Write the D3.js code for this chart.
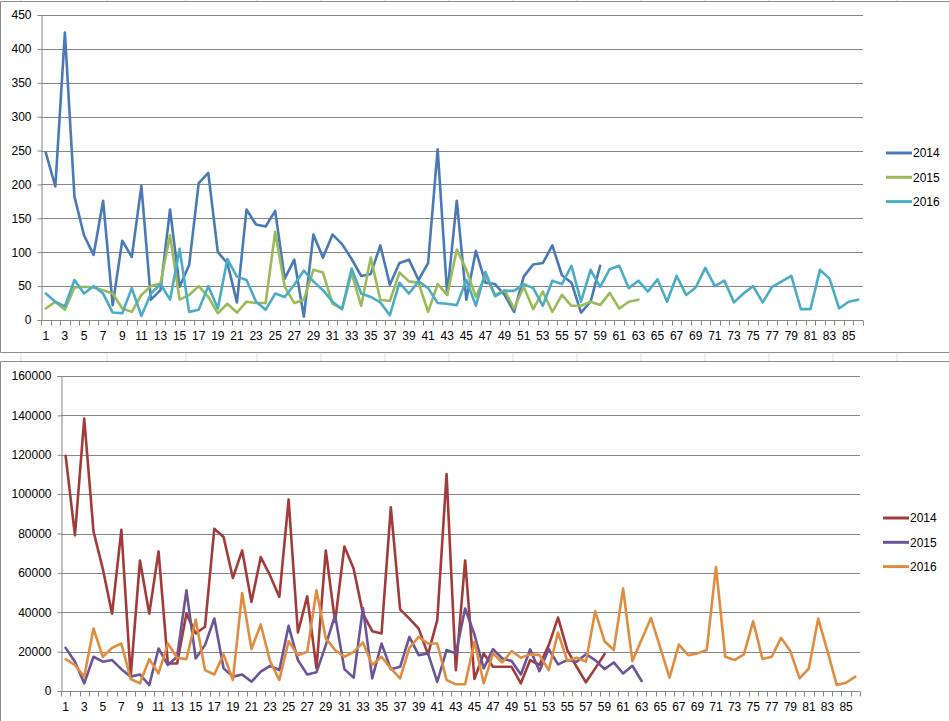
<!DOCTYPE html>
<html lang="en">
<head>
<meta charset="UTF-8">
<title>Weekly counts 2014-2016</title>
<script src="https://d3js.org/d3.v7.min.js"></script>
<style>
  body { margin: 0; background: #fff; }
  svg { display: block; font-family: "Liberation Sans", Arial, sans-serif; }
  .tick-label { font-size: 12px; fill: #000; }
</style>
</head>
<body>
<svg id="chart" width="949" height="721"></svg>
<script>
// categories 1..86 (week numbers)
const weeks = d3.range(1, 87);
const years = ["2014", "2015", "2016"];

// top chart values
const top2014 = [247,197,424,182,125,96,176,22,117,93,198,30,44,163,49,81,202,217,100,84,
  26,163,141,138,161,61,89,5,126,92,126,112,90,65,68,110,52,84,89,59,
  84,252,37,176,30,102,55,53,37,12,64,82,84,110,66,55,11,27,80];
const top2015 = [17,27,15,48,49,48,44,39,17,12,37,50,54,125,30,37,50,34,10,24,
  11,27,25,25,130,49,25,30,74,70,24,17,69,21,92,30,28,70,57,55,
  12,53,37,104,74,34,66,37,44,17,49,16,42,12,37,21,21,27,22,40,
  17,27,30];
const top2016 = [39,27,20,59,39,50,39,11,10,47,6,39,53,30,105,12,15,50,17,90,
  64,59,27,15,39,34,52,73,57,44,27,16,76,39,34,26,7,55,39,57,
  47,25,24,22,59,21,71,35,43,43,53,47,21,58,53,80,27,74,49,75,
  80,47,58,42,60,27,65,37,48,77,50,58,26,39,50,26,49,57,65,16,
  16,74,61,17,27,30];

// bottom chart values
const bot2014 = [119500,79000,138400,81000,62000,39300,81900,7300,66300,39300,70900,14000,14000,39300,29200,32600,82400,78200,57400,71400,
  45200,68000,58700,47800,97200,29700,48100,11500,71400,35100,73400,62100,39300,30400,29200,93300,41500,36800,31700,18600,
  36000,110200,10600,66300,6100,19100,12300,12300,12300,3900,15700,13200,23300,37300,20800,12300,4400,11500,18700];
const bot2015 = [21900,14900,3900,17400,14900,15700,11100,7300,8400,3000,21600,13200,17400,51100,16500,23300,36800,11500,7300,8400,
  4700,9800,12800,10600,33100,15700,8400,9500,23300,38500,11100,6800,42200,6400,24100,11100,12300,27500,18200,19100,
  4700,20800,19100,41900,28700,11500,21300,16500,15200,8400,21100,10100,21300,13500,15700,14900,18700,15700,11100,14500,
  8900,12800,5100];
const bot2016 = [16200,13200,7300,31700,17400,21900,24100,6100,3900,16200,8900,24100,16900,16200,36300,10600,8400,18600,5600,49800,
  21300,33800,15200,5600,25300,18200,19900,51100,26700,20800,17400,19900,24600,13200,17400,11500,6400,21900,27500,24100,
  24100,5600,3400,3400,25000,3900,19100,14500,20300,16900,18600,18200,10600,29700,15200,16900,14900,40500,25300,20800,
  52000,15200,26200,37100,22000,6800,23600,18200,19100,20800,63000,17400,15700,18600,35400,16200,17400,27000,20300,6400,
  11500,36800,20300,3000,4200,7300];

const topTicks = d3.range(0, 451, 50);
const botTicks = d3.range(0, 160001, 20000);

// spreadsheet column lines showing between the two charts
const sheetCols = [21, 107, 186, 257, 321, 385, 449, 513, 577, 641, 705, 769, 833, 897];

const svg = d3.select("#chart");
const gridColor = "#868686";

// sheet background strip between charts
svg.append("g").selectAll("line")
  .data(sheetCols)
  .enter().append("line")
  .attr("x1", d => d).attr("x2", d => d)
  .attr("y1", 353).attr("y2", 361)
  .attr("stroke", "#dadada");
svg.append("g").selectAll("line")
  .data(sheetCols)
  .enter().append("line")
  .attr("x1", d => d).attr("x2", d => d)
  .attr("y1", 0).attr("y2", 1)
  .attr("stroke", "#dadada");

// chart frames
svg.append("path")
  .attr("d", "M949,1.5H0.5V352.5H949")
  .attr("fill", "none").attr("stroke", "#8c8c8c");
svg.append("path")
  .attr("d", "M949,361.5H0.5V721")
  .attr("fill", "none").attr("stroke", "#8c8c8c");

function drawChart(cfg) {
  const g = svg.append("g");

  const x = d3.scaleBand()
    .domain(weeks)
    .range([cfg.left, cfg.right])
    .padding(0);

  const y = d3.scaleLinear()
    .domain([0, cfg.max])
    .range([cfg.bottom, cfg.top]);

  // gridlines
  g.append("g").selectAll("line")
    .data(cfg.ticks.slice(1))
    .enter().append("line")
    .attr("x1", cfg.left).attr("x2", cfg.right)
    .attr("y1", d => Math.round(y(d)) + 0.5)
    .attr("y2", d => Math.round(y(d)) + 0.5)
    .attr("stroke", gridColor);

  // y axis
  const yAxis = g.append("g")
    .attr("transform", "translate(" + (Math.round(cfg.left) + 0.5) + ",0)")
    .call(d3.axisLeft(y).tickValues(cfg.ticks).tickSize(4).tickPadding(6).tickFormat(d3.format("d")));
  yAxis.select(".domain").attr("stroke", gridColor);
  yAxis.selectAll(".tick line").attr("stroke", gridColor);
  yAxis.selectAll("text").attr("class", "tick-label").attr("font-size", null).attr("font-family", null);

  // x axis line
  const yb = Math.round(cfg.bottom) + 0.5;
  g.append("line")
    .attr("x1", cfg.left).attr("x2", cfg.right)
    .attr("y1", yb).attr("y2", yb)
    .attr("stroke", gridColor);

  // tick marks between categories
  const bounds = weeks.map(d => x(d)).concat([cfg.right]);
  g.append("g").selectAll("line")
    .data(bounds)
    .enter().append("line")
    .attr("x1", d => Math.round(d) + 0.5).attr("x2", d => Math.round(d) + 0.5)
    .attr("y1", yb).attr("y2", yb + 5)
    .attr("stroke", gridColor);

  // category labels on odd weeks
  g.append("g").selectAll("text")
    .data(weeks.filter(d => d % 2 === 1))
    .enter().append("text")
    .attr("class", "tick-label")
    .attr("x", d => x(d) + x.bandwidth() / 2)
    .attr("y", cfg.bottom + 20)
    .attr("text-anchor", "middle")
    .text(d => d);

  // series lines
  const line = d3.line()
    .x((d, i) => x(weeks[i]) + x.bandwidth() / 2)
    .y(d => y(d));

  cfg.series.forEach((s, i) => {
    g.append("path")
      .datum(s)
      .attr("d", line)
      .attr("fill", "none")
      .attr("stroke", cfg.colors[i])
      .attr("stroke-width", 2.6)
      .attr("stroke-linejoin", "round")
      .attr("stroke-linecap", "round");
  });

  // legend
  const lg = g.append("g");
  years.forEach((yr, i) => {
    const ly = cfg.legendY + i * 24.3;
    lg.append("line")
      .attr("x1", cfg.legendX).attr("x2", cfg.legendX + 26)
      .attr("y1", ly).attr("y2", ly)
      .attr("stroke", cfg.colors[i])
      .attr("stroke-width", 3);
    lg.append("text")
      .attr("class", "tick-label")
      .attr("x", cfg.legendX + 27)
      .attr("y", ly)
      .attr("dy", "0.35em")
      .text(yr);
  });
}

drawChart({
  left: 41, right: 863, top: 15, bottom: 320,
  max: 450, ticks: topTicks,
  series: [top2014, top2015, top2016],
  colors: ["#4a7ab5", "#9bbb59", "#4bacc6"],
  legendX: 886, legendY: 153
});

drawChart({
  left: 61, right: 860, top: 376, bottom: 691,
  max: 160000, ticks: botTicks,
  series: [bot2014, bot2015, bot2016],
  colors: ["#a23c3b", "#6b5596", "#e08c41"],
  legendX: 883, legendY: 518
});
</script>
</body>
</html>
